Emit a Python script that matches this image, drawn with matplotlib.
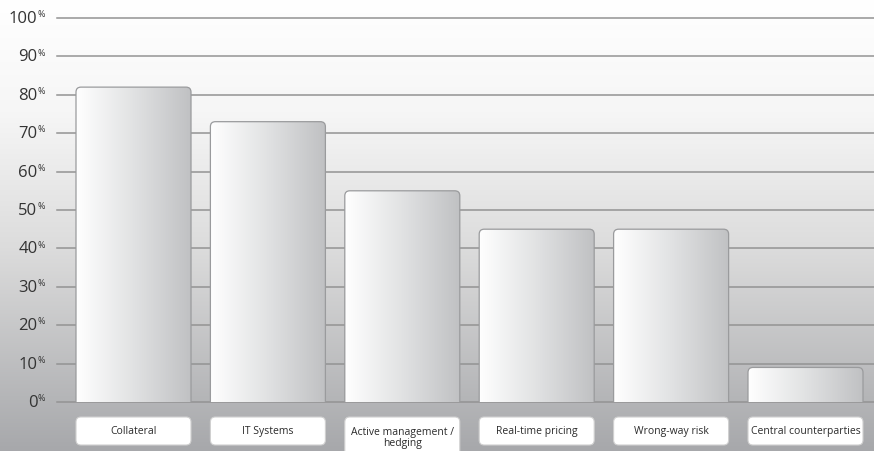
import numpy as np
import matplotlib
matplotlib.use("Agg")
import matplotlib.pyplot as plt
from matplotlib.patches import FancyBboxPatch
from matplotlib.colors import LinearSegmentedColormap
import matplotlib.transforms as mtransforms

categories = ["Collateral", "IT Systems", "Active management /\nhedging",
              "Real-time pricing", "Wrong-way risk", "Central counterparties"]
values = [82, 73, 55, 45, 45, 9]
yticks = [0, 10, 20, 30, 40, 50, 60, 70, 80, 90, 100]

plt.rcParams['font.family'] = ['Open Sans', 'DejaVu Sans']

W, H = 874, 452
fig = plt.figure(figsize=(W / 100, H / 100), dpi=100)

# background gradient
bg = fig.add_axes([0, 0, 1, 1], zorder=0)
grad = np.linspace(0, 1, 256)[:, None]
bgcmap = LinearSegmentedColormap.from_list(
    "bg", [(0, "#ffffff"), (0.25, "#f6f6f6"), (0.55, "#dcdcdc"), (1, "#a7a8ab")])
bg.imshow(grad, aspect='auto', cmap=bgcmap, extent=[0, 1, 0, 1], origin='upper')
bg.axis('off')

xpx = 134.4   # pixels per category
ypx = 3.84    # pixels per percent
ax = fig.add_axes([57 / W, (H - 403) / H, (W - 57) / W, 384 / H], zorder=1)
ax.patch.set_alpha(0)
for s in ax.spines.values():
    s.set_visible(False)
ax.set_xticks([])
ax.set_yticks([])

for t in yticks:
    ax.axhline(t, color="#939393", lw=1.1, zorder=1, clip_on=False)

x = np.arange(len(categories))
bw = 115 / xpx
bars = ax.bar(x, values, width=bw, color='none', edgecolor='none')
barcmap = LinearSegmentedColormap.from_list("bar", ["#ffffff", "#e1e2e3", "#c0c1c3"])
for rect in bars:
    x0, w, h = rect.get_x(), rect.get_width(), rect.get_height()
    patch = FancyBboxPatch((x0, -3), w, h + 3,
                           boxstyle=f"round,pad=0,rounding_size={5 / xpx}",
                           mutation_aspect=xpx / ypx, facecolor='none',
                           edgecolor='#9a9b9d', lw=0.9, zorder=3)
    ax.add_patch(patch)
    im = ax.imshow(np.linspace(0, 1, 256)[None, :], cmap=barcmap,
                   extent=[x0, x0 + w, -3, h], aspect='auto', zorder=2)
    im.set_clip_path(patch)

# category label boxes
for xi, lab in zip(x, categories):
    n = lab.count('\n') + 1
    top = -15 / ypx
    bot = -43 / ypx - (n - 1) * 14 / ypx
    box = FancyBboxPatch((xi - bw / 2, bot), bw, top - bot,
                         boxstyle=f"round,pad=0,rounding_size={5 / xpx}",
                         mutation_aspect=xpx / ypx, facecolor='white',
                         edgecolor='#d0d0d0', lw=0.8, zorder=3, clip_on=False)
    ax.add_patch(box)
    yc = -28.5 / ypx - (n - 1) * 6.5 / ypx
    ax.text(xi, yc, lab, ha='center', va='center', fontsize=7.5,
            color='#2b2b2b', linespacing=1.05, zorder=4, clip_on=False)

# y tick labels with superscript %
trans = mtransforms.blended_transform_factory(fig.transFigure, ax.transData)
for t in yticks:
    ax.text(37.5 / W, t, f"{t}", transform=trans, ha='right', va='center',
            fontsize=12, color='#333333', clip_on=False)
    ax.text(37.8 / W, t + 1.1, "%", transform=trans, ha='left', va='center',
            fontsize=6.5, color='#333333', clip_on=False)

ax.set_xlim(-76.5 / xpx, 5 + 68.5 / xpx)
ax.set_ylim(0, 100)

fig.savefig("out.png", dpi=100)
